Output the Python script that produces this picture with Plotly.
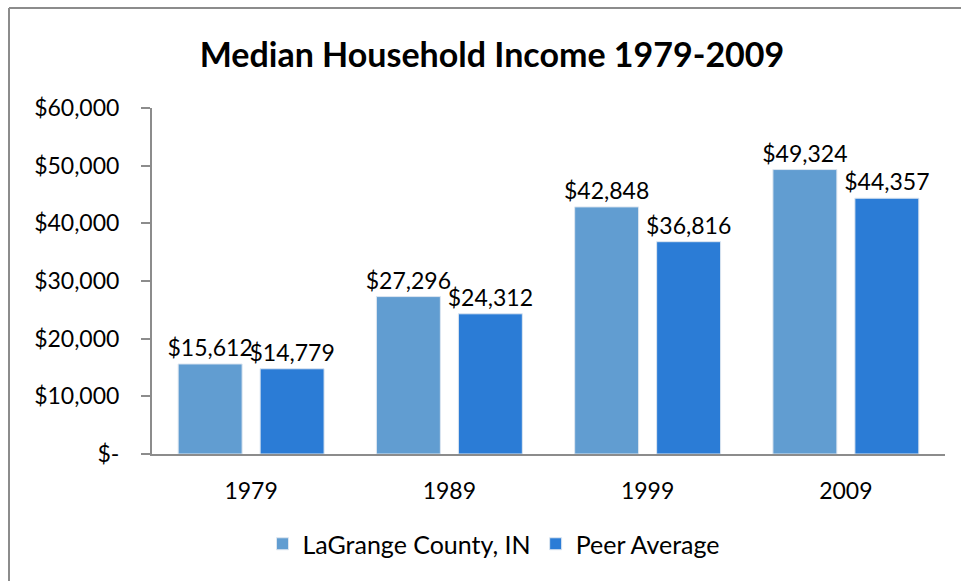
import plotly.graph_objects as go

years = ["1979", "1989", "1999", "2009"]
lagrange = [15612, 27296, 42848, 49324]
peer = [14779, 24312, 36816, 44357]
ytick_vals = [0, 10000, 20000, 30000, 40000, 50000, 60000]
ytick_text = ["$-", "$10,000", "$20,000", "$30,000", "$40,000", "$50,000", "$60,000"]

FONT = "Lato"
W, H = 961, 581
L, R, T, B = 152, 16, 108, 127

def fmt(v):
    return "${:,}".format(v)

fig = go.Figure()
fig.add_trace(go.Bar(
    x=years, y=lagrange, name="LaGrange County, IN",
    marker=dict(color="#619DD1", line=dict(color="#DDE6F0", width=1)),
    text=[fmt(v) for v in lagrange], textposition="outside", constraintext="none",
    textfont=dict(size=23, color="#000000", family=FONT), cliponaxis=False,
))
fig.add_trace(go.Bar(
    x=years, y=peer, name="Peer Average",
    marker=dict(color="#2B7CD6", line=dict(color="#DDE6F0", width=1)),
    text=[fmt(v) for v in peer], textposition="outside", constraintext="none",
    textfont=dict(size=23, color="#000000", family=FONT), cliponaxis=False,
))

pw = W - L - R
ph = H - T - B
def px(x):
    return (x - L) / pw
def py(y):
    return (H - B - y) / ph

fig.update_layout(
    width=W, height=H,
    margin=dict(l=L, r=R, t=T, b=B, autoexpand=False),
    paper_bgcolor="white", plot_bgcolor="white",
    font=dict(family=FONT, size=23, color="#000000"),
    title=dict(text="<b>Median Household Income 1979-2009</b>",
               x=492 / W, xref="container", xanchor="center",
               y=1 - 55 / H, yref="container", yanchor="middle",
               font=dict(family=FONT, size=34, color="#000000")),
    barmode="group", bargap=0.173, bargroupgap=0.22,
    showlegend=True,
    legend=dict(orientation="h", x=px(494), xanchor="center", y=py(544), yanchor="middle",
                font=dict(family=FONT, size=25), traceorder="normal"),
    xaxis=dict(showline=True, linecolor="#8C8C8C", linewidth=2, ticks="",
               showgrid=False, ticklabelstandoff=15, tickfont=dict(size=23)),
    yaxis=dict(range=[0, 60000], tickvals=ytick_vals, ticktext=ytick_text,
               showline=True, linecolor="#8C8C8C", linewidth=2, ticks="outside",
               ticklen=9, tickcolor="#8C8C8C", tickwidth=2, showgrid=False,
               zeroline=False, ticklabelstandoff=17, tickfont=dict(size=23)),
    shapes=[
        dict(type="line", xref="paper", yref="paper", x0=px(9), x1=px(961), y0=py(8), y1=py(8),
             line=dict(color="#8C8C8C", width=2)),
        dict(type="line", xref="paper", yref="paper", x0=px(9), x1=px(9), y0=py(8), y1=py(581),
             line=dict(color="#8C8C8C", width=2)),
    ],
)

fig.write_html("out.html", config={"responsive": False, "displayModeBar": False},
               post_script="document.body.style.margin='0';document.body.style.overflow='hidden';")
